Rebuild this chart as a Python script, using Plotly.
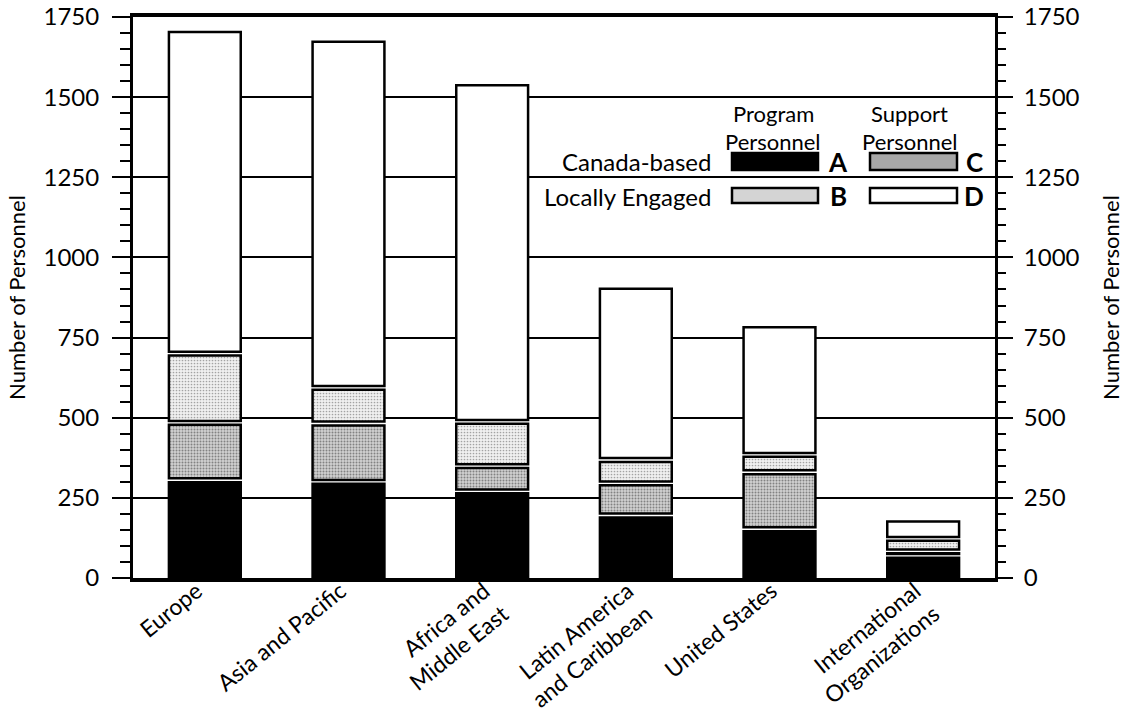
import plotly.graph_objects as go

# ---- data ----
regions = [
    "Europe",
    "Asia and Pacific",
    "Africa and<br>Middle East",
    "Latin America<br>and Caribbean",
    "United States",
    "International<br>Organizations",
]
canada_program = [305, 300, 270, 195, 152, 69]      # A
canada_support = [179, 182, 79, 100, 178, 14]       # C
local_program = [216, 111, 138, 73, 54, 39]         # B
local_support = [1003, 1080, 1050, 534, 398, 54]    # D
y_ticks = [0, 250, 500, 750, 1000, 1250, 1500, 1750]

FONT = "Lato"
GAP = 6  # visual white gap between stacked segments (data units, style only)

stack = [
    ("A: Canada-based Program", canada_program, dict(color="black"), None),
    ("C: Canada-based Support", canada_support, dict(color="#9a9a9a"),
     dict(shape=".", fgcolor="#333333", bgcolor="#d0d0d0", size=3, solidity=0.35)),
    ("B: Locally Engaged Program", local_program, dict(color="#c8c8c8"),
     dict(shape=".", fgcolor="#555555", bgcolor="#f0f0f0", size=3, solidity=0.25)),
    ("D: Locally Engaged Support", local_support, dict(color="white"), None),
]

fig = go.Figure()
cum = [0] * len(regions)
n = len(stack)
for i, (name, vals, fill, pattern) in enumerate(stack):
    lo = 0 if i == 0 else GAP
    hi = 0 if i == n - 1 else GAP
    base = [c + lo for c in cum]
    h = [v - lo - hi for v in vals]
    marker = dict(color=fill["color"], line=dict(color="black", width=2.5))
    if pattern:
        marker["pattern"] = pattern
    fig.add_trace(go.Bar(
        x=regions, y=h, base=base, name=name, width=0.5,
        marker=marker, customdata=vals,
        hovertemplate="%{x}<br>" + name + ": %{customdata}<extra></extra>",
        showlegend=False,
    ))
    cum = [c + v for c, v in zip(cum, vals)]

# invisible trace to activate the right-hand axis
fig.add_trace(go.Scatter(x=regions, y=cum, yaxis="y2", mode="markers",
                         marker=dict(opacity=0), hoverinfo="skip", showlegend=False))

tick_font = dict(family=FONT, size=24, color="black")
title_font = dict(family=FONT, size=22, color="black")

yaxis_common = dict(
    range=[0, 1750], tickvals=y_ticks, ticktext=[str(t) for t in y_ticks],
    ticks="outside", tickwidth=2, tickcolor="black",
    showline=True, linecolor="black", linewidth=3,
    tickfont=tick_font, zeroline=False, fixedrange=True, automargin=False,
    ticklabeloverflow="allow",
)

fig.update_layout(
    width=1132, height=716,
    margin=dict(l=133, r=137, t=17, b=138, autoexpand=False),
    paper_bgcolor="white", plot_bgcolor="white",
    barmode="overlay",
    font=dict(family=FONT, color="black"),
    xaxis=dict(
        showline=True, linecolor="black", linewidth=3.5, mirror=True,
        ticks="", tickangle=-39, tickfont=dict(family=FONT, size=23, color="black"),
        ticklabelstandoff=-13, ticklabelshift=-8, ticklabeloverflow="allow",
        showgrid=False, fixedrange=True, automargin=False,
    ),
    yaxis=dict(
        **yaxis_common, side="left", showgrid=True, gridcolor="black", gridwidth=2,
        ticklen=18, ticklabelstandoff=8,
        minor=dict(dtick=50, ticks="outside", ticklen=10, tickwidth=1.5, tickcolor="black", showgrid=False),
        title=dict(text="Number of Personnel", font=title_font, standoff=12),
    ),
    yaxis2=dict(
        **yaxis_common, side="right", overlaying="y", showgrid=False,
        ticklen=15, ticklabelstandoff=6,
        minor=dict(dtick=50, ticks="outside", ticklen=8, tickwidth=1.5, tickcolor="black", showgrid=False),
        title=dict(text="Number of Personnel", font=title_font, standoff=26),
    ),
)

# ---- custom legend (matrix layout); positions given in reference pixels ----
def px_x(px):
    return (px - 133) / 862

def px_y(py):
    return (578 - py) / 561

legend_swatches = [
    ("A", "black", 732, 818, 153, 170, 838),
    ("C", "#a8a8a8", 870, 957, 153, 170, 974),
    ("B", "#d4d4d4", 732, 818, 188, 203, 838),
    ("D", "white", 870, 957, 188, 203, 974),
]
for letter, color, x0, x1, y0, y1, lx in legend_swatches:
    fig.add_shape(type="rect", xref="paper", yref="paper",
                  x0=px_x(x0), x1=px_x(x1), y0=px_y(y1), y1=px_y(y0),
                  fillcolor=color, line=dict(color="black", width=2.5))
    fig.add_annotation(xref="paper", yref="paper", x=px_x(lx), y=px_y((y0 + y1) / 2),
                       text="<b>" + letter + "</b>", showarrow=False,
                       font=dict(family=FONT, size=26, color="black"),
                       xanchor="center", yanchor="middle", borderpad=0)

headers = [("Program", 773, 114), ("Personnel", 773, 141),
           ("Support", 909, 114), ("Personnel", 910, 141)]
for txt, x, y in headers:
    fig.add_annotation(xref="paper", yref="paper", x=px_x(x), y=px_y(y), text=txt,
                       showarrow=False, font=dict(family=FONT, size=22, color="black"),
                       xanchor="center", yanchor="middle", borderpad=0)

row_labels = [("Canada-based", 162), ("Locally Engaged", 197)]
for txt, y in row_labels:
    fig.add_annotation(xref="paper", yref="paper", x=px_x(712), y=px_y(y), text=txt,
                       showarrow=False, font=dict(family=FONT, size=24, color="black"),
                       xanchor="right", yanchor="middle", borderpad=0)

# remove the default 8px page margin so the 1132x716 figure fills the window exactly
fig.write_html("out.html", config={"displayModeBar": False},
               post_script="document.body.style.margin='0';")
